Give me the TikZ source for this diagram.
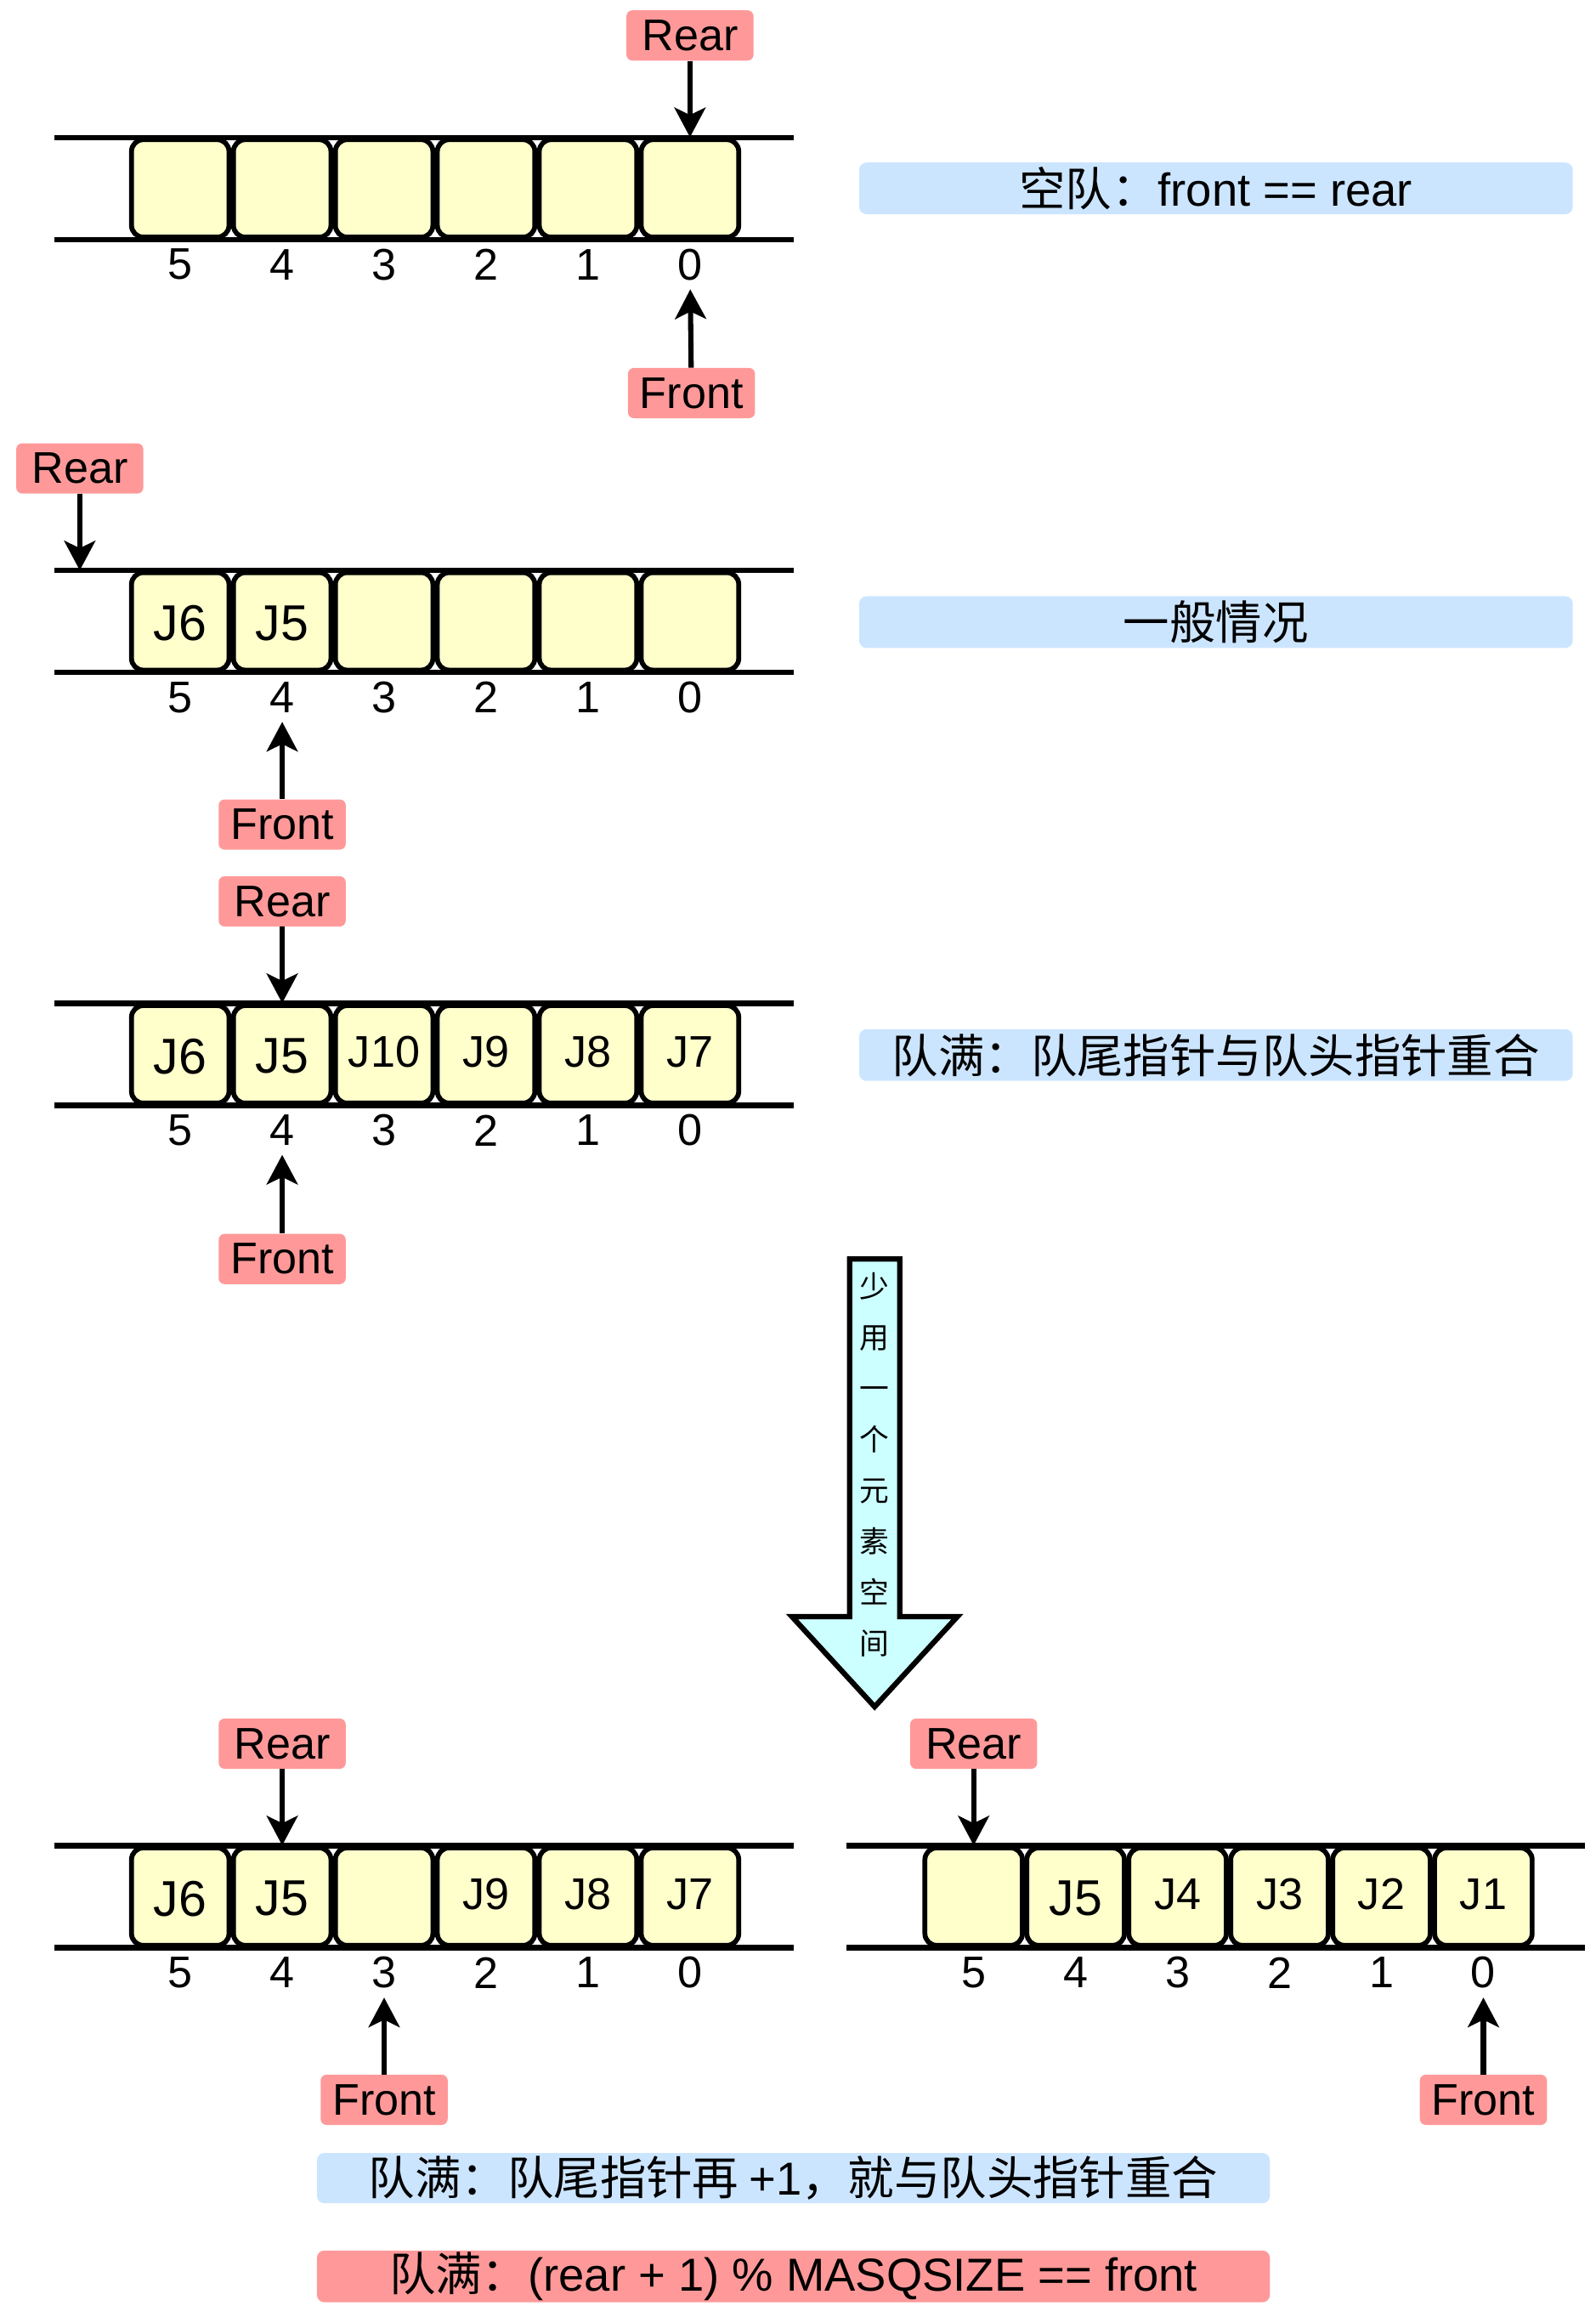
\documentclass[tikz,border=0pt]{standalone}
\usepackage{fontspec}
\setmainfont{Liberation Sans}
\newfontfamily\cjk{Noto Sans CJK SC}
\usetikzlibrary{arrows.meta}
\usepackage{xcolor}
\definecolor{cellfill}{HTML}{FFFFCC}
\definecolor{ptrfill}{HTML}{FF9999}
\definecolor{notefill}{HTML}{CCE5FF}
\definecolor{downfill}{HTML}{CCFFFF}
\newcommand{\qfont}{\fontsize{30}{36}\selectfont}

\begin{document}
\begin{tikzpicture}[x=1pt, y=-1pt]
 \tikzstyle{cell}=[draw, line width=3.3pt, rounded corners=8pt, fill=cellfill,
                   minimum width=66pt, minimum height=66pt, inner sep=0pt, font=\qfont]
 \tikzstyle{jbig}=[font=\fontsize{34}{40}\selectfont, yshift=-1.3pt]
 \tikzstyle{jreg}=[yshift=1.5pt]
 \tikzstyle{idx}=[inner sep=0pt, font=\qfont]
 \tikzstyle{ptr}=[fill=ptrfill, rounded corners=4pt, minimum width=86pt,
                  minimum height=34pt, inner sep=0pt, font=\qfont]
 \tikzstyle{note}=[fill=notefill, rounded corners=5pt, minimum width=483pt,
                   minimum height=35pt, inner sep=0pt, font=\fontsize{31.3}{36}\selectfont]
 \tikzstyle{rail}=[line width=3.6pt]
 \tikzstyle{link}=[line width=3.5pt, -{Stealth[length=20pt, width=21pt, inset=5pt]}]

\useasboundingbox (0,0) rectangle (1080,1568);

% empty queue
\draw[rail] (37,93) -- (537,93) (37,162) -- (537,162);
\foreach \n/\t in {5/{},4/{},3/{},2/{},1/{},0/{}}{
  \node[cell] (a\n) at (467-69*\n,127.5) {\t};
  \node[idx] (ai\n) at (467-69*\n,179) {\n};
}
\node[ptr] (rearA) at (467,24) {Rear};
\node[ptr] (frontA) at (468,266) {Front};
\draw[link] (rearA) -- (a0.north);
\draw[link, shorten >=6pt] (frontA) -- (ai0);
\node[note] (noteA) at (823,127.5) {{\cjk 空队：}front == rear};

% general case
\draw[rail] (37,386) -- (537,386) (37,455) -- (537,455);
\foreach \n/\t/\s in {5/J6/jbig,4/J5/jbig,3/{}/jreg,2/{}/jreg,1/{}/jreg,0/{}/jreg}{
  \node[cell] (b\n) at (467-69*\n,420.5) {};
  \node[font=\qfont, \s] (bt\n) at (b\n) {\t};
  \node[idx] (bi\n) at (467-69*\n,472) {\n};
}
\node[ptr] (rearB) at (54,317) {Rear};
\coordinate (rb) at (54,386);
\node[ptr] (frontB) at (191,558) {Front};
\draw[link] (rearB) -- (rb);
\draw[link, shorten >=6pt] (frontB) -- (bi4);
\node[note] (noteB) at (823,421) {\cjk 一般情况};

% full queue
\draw[rail] (37,679) -- (537,679) (37,748) -- (537,748);
\foreach \n/\t/\s in {5/J6/jbig,4/J5/jbig,3/J10/jreg,2/J9/jreg,1/J8/jreg,0/J7/jreg}{
  \node[cell] (c\n) at (467-69*\n,713.5) {};
  \node[font=\qfont, \s] (ct\n) at (c\n) {\t};
  \node[idx] (ci\n) at (467-69*\n,765) {\n};
}
\node[ptr] (rearC) at (191,610) {Rear};
\node[ptr] (frontC) at (191,852) {Front};
\draw[link] (rearC) -- (c4.north);
\draw[link, shorten >=6pt] (frontC) -- (ci4);
\node[note] (noteC) at (823,714) {\cjk 队满：队尾指针与队头指针重合};

% one slot left free
\filldraw[fill=downfill, draw=black, line width=3.6pt]
  (575,852) -- (609,852) -- (609,1094) -- (648,1094) -- (592,1155)
  -- (536,1094) -- (575,1094) -- cycle;
\node[align=center, inner sep=0pt, font=\fontsize{20}{34.5}\selectfont\cjk] (spare) at (592,991)
  {少\\用\\一\\个\\元\\素\\空\\间};

% bottom left
\draw[rail] (37,1249) -- (537,1249) (37,1318) -- (537,1318);
\foreach \n/\t/\s in {5/J6/jbig,4/J5/jbig,3/{}/jreg,2/J9/jreg,1/J8/jreg,0/J7/jreg}{
  \node[cell] (d\n) at (467-69*\n,1283.5) {};
  \node[font=\qfont, \s] (dt\n) at (d\n) {\t};
  \node[idx] (di\n) at (467-69*\n,1335) {\n};
}
\node[ptr] (rearD) at (191,1180) {Rear};
\node[ptr] (frontD) at (260,1421) {Front};
\draw[link] (rearD) -- (d4.north);
\draw[link, shorten >=6pt] (frontD) -- (di3);

% bottom right
\draw[rail] (573,1249) -- (1073,1249) (573,1318) -- (1073,1318);
\foreach \n/\t/\s in {5/{}/jreg,4/J5/jbig,3/J4/jreg,2/J3/jreg,1/J2/jreg,0/J1/jreg}{
  \node[cell] (e\n) at (1004-69*\n,1283.5) {};
  \node[font=\qfont, \s] (et\n) at (e\n) {\t};
  \node[idx] (ei\n) at (1004-69*\n,1335) {\n};
}
\node[ptr] (rearE) at (659,1180) {Rear};
\node[ptr] (frontE) at (1004,1421) {Front};
\draw[link] (rearE) -- (e5.north);
\draw[link, shorten >=6pt] (frontE) -- (ei0);

\node[note, minimum width=645pt, minimum height=34pt] (noteD) at (537,1474)
  {{\cjk 队满：队尾指针再 }+1{\cjk ，就与队头指针重合}};
\node[note, fill=ptrfill, minimum width=645pt] (noteE) at (537,1540.5)
  {{\cjk 队满：}(rear + 1) \% MASQSIZE == front};

\end{tikzpicture}
\end{document}
